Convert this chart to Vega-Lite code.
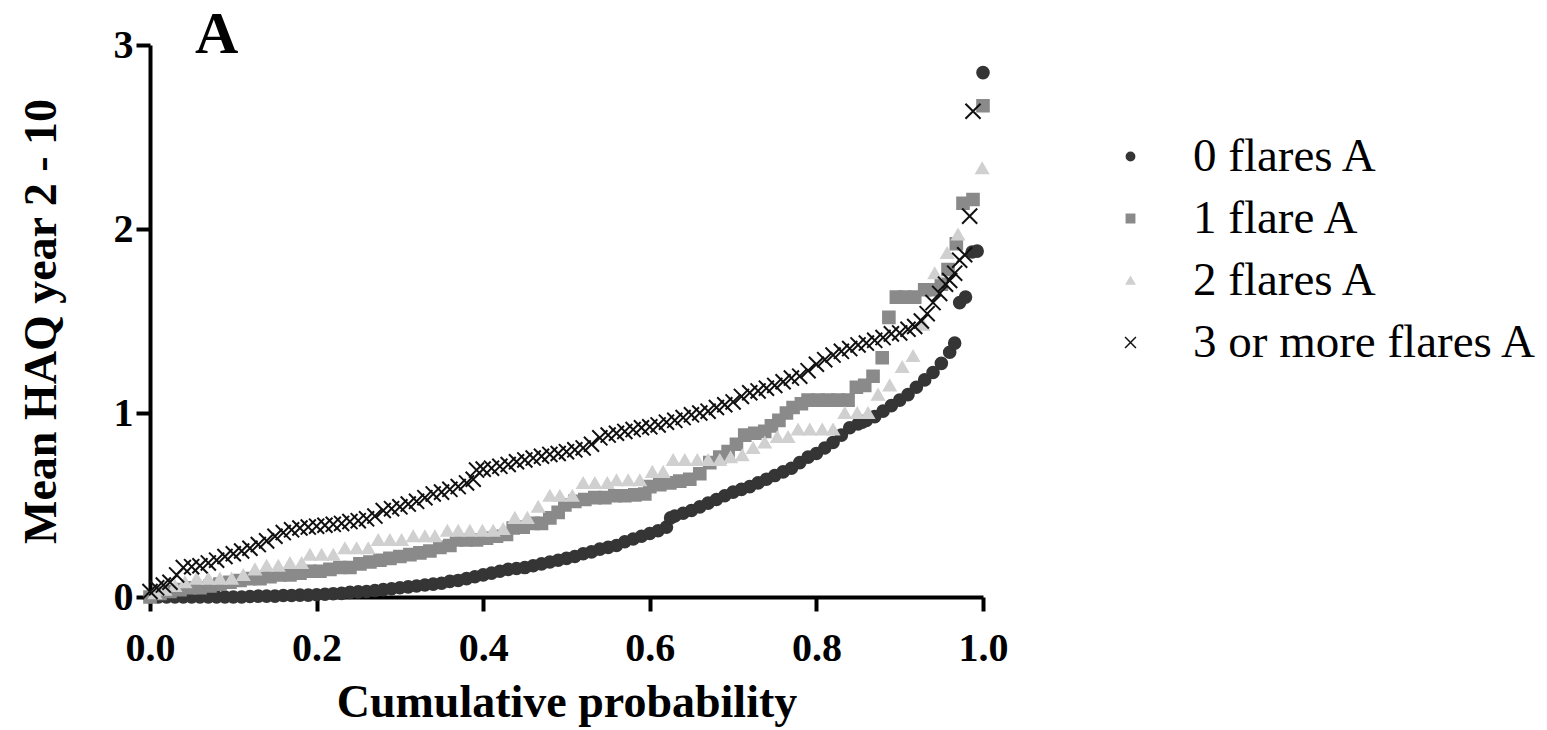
{
  "$schema": "https://vega.github.io/schema/vega-lite/v6.json",
  "width": 833,
  "height": 552,
  "autosize": {"type": "none"},
  "padding": {"left": 150, "top": 45, "right": 564, "bottom": 133},
  "background": "white",
  "title": {"text": "A", "anchor": "start", "frame": "group", "font": "Liberation Serif", "fontSize": 60, "fontWeight": "bold", "color": "black", "baseline": "alphabetic", "offset": 0, "dx": 45, "dy": 88},
  "config": {
    "view": {"stroke": null},
    "axis": {"grid": false, "domainColor": "black", "domainWidth": 4, "tickColor": "black", "tickWidth": 4, "tickSize": 14, "labelFont": "Liberation Serif", "labelFontWeight": "bold", "labelFontSize": 40, "labelColor": "black", "titleFont": "Liberation Serif", "titleFontWeight": "bold", "titleFontSize": 46, "titleColor": "black", "labelFlush": false},
    "legend": {"orient": "none", "legendX": 957, "legendY": 88, "labelFont": "Liberation Serif", "labelFontSize": 47, "labelColor": "black", "symbolSize": 70, "symbolStrokeWidth": 1.5, "rowPadding": 14, "labelOffset": 39, "padding": 0, "labelLimit": 0}
  },
  "data": {"values": [
    {"g":"0 flares A","p":0.00,"v":0},{"g":"0 flares A","p":0.01,"v":0},{"g":"0 flares A","p":0.02,"v":0},{"g":"0 flares A","p":0.03,"v":0},{"g":"0 flares A","p":0.04,"v":0},{"g":"0 flares A","p":0.05,"v":0},{"g":"0 flares A","p":0.06,"v":0},{"g":"0 flares A","p":0.07,"v":0},{"g":"0 flares A","p":0.08,"v":0},{"g":"0 flares A","p":0.09,"v":0},
    {"g":"0 flares A","p":0.10,"v":0},{"g":"0 flares A","p":0.11,"v":0},{"g":"0 flares A","p":0.12,"v":0.003},{"g":"0 flares A","p":0.13,"v":0.005},{"g":"0 flares A","p":0.14,"v":0.005},{"g":"0 flares A","p":0.15,"v":0.005},{"g":"0 flares A","p":0.16,"v":0.008},{"g":"0 flares A","p":0.17,"v":0.008},{"g":"0 flares A","p":0.18,"v":0.01},{"g":"0 flares A","p":0.19,"v":0.01},
    {"g":"0 flares A","p":0.20,"v":0.012},{"g":"0 flares A","p":0.21,"v":0.015},{"g":"0 flares A","p":0.22,"v":0.018},{"g":"0 flares A","p":0.23,"v":0.02},{"g":"0 flares A","p":0.24,"v":0.025},{"g":"0 flares A","p":0.25,"v":0.028},{"g":"0 flares A","p":0.26,"v":0.03},{"g":"0 flares A","p":0.27,"v":0.035},{"g":"0 flares A","p":0.28,"v":0.04},{"g":"0 flares A","p":0.29,"v":0.045},
    {"g":"0 flares A","p":0.30,"v":0.05},{"g":"0 flares A","p":0.31,"v":0.055},{"g":"0 flares A","p":0.32,"v":0.06},{"g":"0 flares A","p":0.33,"v":0.065},{"g":"0 flares A","p":0.34,"v":0.07},{"g":"0 flares A","p":0.35,"v":0.075},{"g":"0 flares A","p":0.36,"v":0.085},{"g":"0 flares A","p":0.37,"v":0.09},{"g":"0 flares A","p":0.38,"v":0.1},{"g":"0 flares A","p":0.39,"v":0.11},
    {"g":"0 flares A","p":0.40,"v":0.12},{"g":"0 flares A","p":0.41,"v":0.13},{"g":"0 flares A","p":0.42,"v":0.14},{"g":"0 flares A","p":0.43,"v":0.15},{"g":"0 flares A","p":0.44,"v":0.155},{"g":"0 flares A","p":0.45,"v":0.16},{"g":"0 flares A","p":0.46,"v":0.17},{"g":"0 flares A","p":0.47,"v":0.18},{"g":"0 flares A","p":0.48,"v":0.19},{"g":"0 flares A","p":0.49,"v":0.2},
    {"g":"0 flares A","p":0.50,"v":0.21},{"g":"0 flares A","p":0.51,"v":0.22},{"g":"0 flares A","p":0.52,"v":0.235},{"g":"0 flares A","p":0.53,"v":0.245},{"g":"0 flares A","p":0.54,"v":0.26},{"g":"0 flares A","p":0.55,"v":0.27},{"g":"0 flares A","p":0.56,"v":0.28},{"g":"0 flares A","p":0.57,"v":0.3},{"g":"0 flares A","p":0.58,"v":0.315},{"g":"0 flares A","p":0.59,"v":0.33},
    {"g":"0 flares A","p":0.60,"v":0.345},{"g":"0 flares A","p":0.61,"v":0.36},{"g":"0 flares A","p":0.62,"v":0.38},{"g":"0 flares A","p":0.625,"v":0.43},{"g":"0 flares A","p":0.63,"v":0.44},{"g":"0 flares A","p":0.64,"v":0.455},{"g":"0 flares A","p":0.65,"v":0.47},{"g":"0 flares A","p":0.66,"v":0.49},{"g":"0 flares A","p":0.67,"v":0.51},{"g":"0 flares A","p":0.68,"v":0.53},
    {"g":"0 flares A","p":0.69,"v":0.55},{"g":"0 flares A","p":0.70,"v":0.57},{"g":"0 flares A","p":0.71,"v":0.585},{"g":"0 flares A","p":0.72,"v":0.6},{"g":"0 flares A","p":0.73,"v":0.62},{"g":"0 flares A","p":0.74,"v":0.64},{"g":"0 flares A","p":0.75,"v":0.66},{"g":"0 flares A","p":0.76,"v":0.68},{"g":"0 flares A","p":0.77,"v":0.7},{"g":"0 flares A","p":0.78,"v":0.73},
    {"g":"0 flares A","p":0.79,"v":0.76},{"g":"0 flares A","p":0.80,"v":0.78},{"g":"0 flares A","p":0.81,"v":0.81},{"g":"0 flares A","p":0.82,"v":0.84},{"g":"0 flares A","p":0.83,"v":0.88},{"g":"0 flares A","p":0.84,"v":0.92},{"g":"0 flares A","p":0.85,"v":0.94},{"g":"0 flares A","p":0.855,"v":0.95},{"g":"0 flares A","p":0.86,"v":0.96},{"g":"0 flares A","p":0.87,"v":0.98},
    {"g":"0 flares A","p":0.88,"v":1.01},{"g":"0 flares A","p":0.89,"v":1.04},{"g":"0 flares A","p":0.90,"v":1.07},{"g":"0 flares A","p":0.91,"v":1.1},{"g":"0 flares A","p":0.92,"v":1.14},{"g":"0 flares A","p":0.93,"v":1.18},{"g":"0 flares A","p":0.94,"v":1.22},{"g":"0 flares A","p":0.95,"v":1.27},{"g":"0 flares A","p":0.96,"v":1.33},{"g":"0 flares A","p":0.966,"v":1.38},
    {"g":"0 flares A","p":0.972,"v":1.6},{"g":"0 flares A","p":0.979,"v":1.63},{"g":"0 flares A","p":0.987,"v":1.875},{"g":"0 flares A","p":0.993,"v":1.88},{"g":"0 flares A","p":1.0,"v":2.85},

    {"g":"1 flare A","p":0.000,"v":0.0},{"g":"1 flare A","p":0.012,"v":0.02},{"g":"1 flare A","p":0.024,"v":0.03},{"g":"1 flare A","p":0.036,"v":0.04},{"g":"1 flare A","p":0.048,"v":0.05},{"g":"1 flare A","p":0.060,"v":0.05},{"g":"1 flare A","p":0.072,"v":0.06},{"g":"1 flare A","p":0.084,"v":0.07},{"g":"1 flare A","p":0.096,"v":0.08},{"g":"1 flare A","p":0.108,"v":0.09},
    {"g":"1 flare A","p":0.120,"v":0.1},{"g":"1 flare A","p":0.132,"v":0.1},{"g":"1 flare A","p":0.144,"v":0.11},{"g":"1 flare A","p":0.156,"v":0.12},{"g":"1 flare A","p":0.168,"v":0.12},{"g":"1 flare A","p":0.180,"v":0.13},{"g":"1 flare A","p":0.192,"v":0.14},{"g":"1 flare A","p":0.204,"v":0.14},{"g":"1 flare A","p":0.216,"v":0.15},{"g":"1 flare A","p":0.228,"v":0.16},
    {"g":"1 flare A","p":0.240,"v":0.16},{"g":"1 flare A","p":0.252,"v":0.18},{"g":"1 flare A","p":0.264,"v":0.19},{"g":"1 flare A","p":0.276,"v":0.2},{"g":"1 flare A","p":0.288,"v":0.21},{"g":"1 flare A","p":0.300,"v":0.22},{"g":"1 flare A","p":0.312,"v":0.23},{"g":"1 flare A","p":0.324,"v":0.24},{"g":"1 flare A","p":0.336,"v":0.25},{"g":"1 flare A","p":0.348,"v":0.27},
    {"g":"1 flare A","p":0.360,"v":0.28},{"g":"1 flare A","p":0.368,"v":0.31},{"g":"1 flare A","p":0.380,"v":0.31},{"g":"1 flare A","p":0.392,"v":0.31},{"g":"1 flare A","p":0.404,"v":0.32},{"g":"1 flare A","p":0.416,"v":0.33},{"g":"1 flare A","p":0.428,"v":0.34},{"g":"1 flare A","p":0.436,"v":0.375},{"g":"1 flare A","p":0.448,"v":0.38},{"g":"1 flare A","p":0.460,"v":0.4},
    {"g":"1 flare A","p":0.470,"v":0.4},{"g":"1 flare A","p":0.480,"v":0.43},{"g":"1 flare A","p":0.490,"v":0.46},{"g":"1 flare A","p":0.498,"v":0.5},{"g":"1 flare A","p":0.510,"v":0.52},{"g":"1 flare A","p":0.522,"v":0.53},{"g":"1 flare A","p":0.534,"v":0.54},{"g":"1 flare A","p":0.546,"v":0.54},{"g":"1 flare A","p":0.558,"v":0.55},{"g":"1 flare A","p":0.570,"v":0.55},
    {"g":"1 flare A","p":0.582,"v":0.555},{"g":"1 flare A","p":0.594,"v":0.56},{"g":"1 flare A","p":0.600,"v":0.6},{"g":"1 flare A","p":0.612,"v":0.61},{"g":"1 flare A","p":0.624,"v":0.62},{"g":"1 flare A","p":0.636,"v":0.63},{"g":"1 flare A","p":0.648,"v":0.64},{"g":"1 flare A","p":0.660,"v":0.67},{"g":"1 flare A","p":0.672,"v":0.73},{"g":"1 flare A","p":0.684,"v":0.76},
    {"g":"1 flare A","p":0.694,"v":0.79},{"g":"1 flare A","p":0.704,"v":0.83},{"g":"1 flare A","p":0.714,"v":0.88},{"g":"1 flare A","p":0.726,"v":0.89},{"g":"1 flare A","p":0.738,"v":0.9},{"g":"1 flare A","p":0.746,"v":0.93},{"g":"1 flare A","p":0.755,"v":0.96},{"g":"1 flare A","p":0.764,"v":1.0},{"g":"1 flare A","p":0.772,"v":1.03},{"g":"1 flare A","p":0.782,"v":1.05},
    {"g":"1 flare A","p":0.790,"v":1.07},{"g":"1 flare A","p":0.802,"v":1.07},{"g":"1 flare A","p":0.814,"v":1.07},{"g":"1 flare A","p":0.826,"v":1.07},{"g":"1 flare A","p":0.838,"v":1.07},{"g":"1 flare A","p":0.848,"v":1.14},{"g":"1 flare A","p":0.858,"v":1.15},{"g":"1 flare A","p":0.868,"v":1.2},{"g":"1 flare A","p":0.879,"v":1.3},{"g":"1 flare A","p":0.887,"v":1.52},
    {"g":"1 flare A","p":0.896,"v":1.63},{"g":"1 flare A","p":0.906,"v":1.63},{"g":"1 flare A","p":0.918,"v":1.63},{"g":"1 flare A","p":0.930,"v":1.67},{"g":"1 flare A","p":0.942,"v":1.67},{"g":"1 flare A","p":0.950,"v":1.7},{"g":"1 flare A","p":0.958,"v":1.78},{"g":"1 flare A","p":0.968,"v":1.92},{"g":"1 flare A","p":0.976,"v":2.14},{"g":"1 flare A","p":0.988,"v":2.16},
    {"g":"1 flare A","p":1.0,"v":2.67},

    {"g":"2 flares A","p":0.006,"v":0.02},{"g":"2 flares A","p":0.018,"v":0.04},{"g":"2 flares A","p":0.030,"v":0.06},{"g":"2 flares A","p":0.042,"v":0.08},{"g":"2 flares A","p":0.056,"v":0.1},{"g":"2 flares A","p":0.070,"v":0.1},{"g":"2 flares A","p":0.084,"v":0.1},{"g":"2 flares A","p":0.098,"v":0.1},{"g":"2 flares A","p":0.112,"v":0.12},{"g":"2 flares A","p":0.126,"v":0.15},
    {"g":"2 flares A","p":0.140,"v":0.17},{"g":"2 flares A","p":0.154,"v":0.17},{"g":"2 flares A","p":0.168,"v":0.185},{"g":"2 flares A","p":0.182,"v":0.185},{"g":"2 flares A","p":0.192,"v":0.23},{"g":"2 flares A","p":0.206,"v":0.23},{"g":"2 flares A","p":0.220,"v":0.23},{"g":"2 flares A","p":0.234,"v":0.265},{"g":"2 flares A","p":0.248,"v":0.265},{"g":"2 flares A","p":0.262,"v":0.265},
    {"g":"2 flares A","p":0.274,"v":0.31},{"g":"2 flares A","p":0.288,"v":0.31},{"g":"2 flares A","p":0.302,"v":0.31},{"g":"2 flares A","p":0.316,"v":0.33},{"g":"2 flares A","p":0.330,"v":0.33},{"g":"2 flares A","p":0.342,"v":0.33},{"g":"2 flares A","p":0.357,"v":0.36},{"g":"2 flares A","p":0.370,"v":0.36},{"g":"2 flares A","p":0.384,"v":0.36},{"g":"2 flares A","p":0.399,"v":0.36},
    {"g":"2 flares A","p":0.412,"v":0.36},{"g":"2 flares A","p":0.424,"v":0.37},{"g":"2 flares A","p":0.438,"v":0.43},{"g":"2 flares A","p":0.453,"v":0.43},{"g":"2 flares A","p":0.466,"v":0.49},{"g":"2 flares A","p":0.480,"v":0.55},{"g":"2 flares A","p":0.492,"v":0.55},{"g":"2 flares A","p":0.507,"v":0.55},{"g":"2 flares A","p":0.520,"v":0.62},{"g":"2 flares A","p":0.534,"v":0.62},
    {"g":"2 flares A","p":0.549,"v":0.62},{"g":"2 flares A","p":0.560,"v":0.635},{"g":"2 flares A","p":0.574,"v":0.635},{"g":"2 flares A","p":0.588,"v":0.635},{"g":"2 flares A","p":0.603,"v":0.68},{"g":"2 flares A","p":0.616,"v":0.68},{"g":"2 flares A","p":0.628,"v":0.745},{"g":"2 flares A","p":0.642,"v":0.745},{"g":"2 flares A","p":0.657,"v":0.745},{"g":"2 flares A","p":0.670,"v":0.745},
    {"g":"2 flares A","p":0.684,"v":0.745},{"g":"2 flares A","p":0.697,"v":0.76},{"g":"2 flares A","p":0.711,"v":0.77},{"g":"2 flares A","p":0.724,"v":0.81},{"g":"2 flares A","p":0.738,"v":0.84},{"g":"2 flares A","p":0.753,"v":0.87},{"g":"2 flares A","p":0.766,"v":0.87},{"g":"2 flares A","p":0.778,"v":0.91},{"g":"2 flares A","p":0.792,"v":0.91},{"g":"2 flares A","p":0.807,"v":0.91},
    {"g":"2 flares A","p":0.820,"v":0.91},{"g":"2 flares A","p":0.834,"v":1.0},{"g":"2 flares A","p":0.849,"v":1.0},{"g":"2 flares A","p":0.862,"v":1.0},{"g":"2 flares A","p":0.874,"v":1.1},{"g":"2 flares A","p":0.888,"v":1.15},{"g":"2 flares A","p":0.903,"v":1.25},{"g":"2 flares A","p":0.916,"v":1.31},{"g":"2 flares A","p":0.928,"v":1.48},{"g":"2 flares A","p":0.942,"v":1.76},
    {"g":"2 flares A","p":0.957,"v":1.87},{"g":"2 flares A","p":0.970,"v":1.97},{"g":"2 flares A","p":0.999,"v":2.33},

    {"g":"3 or more flares A","p":0.000,"v":0.03},{"g":"3 or more flares A","p":0.008,"v":0.05},{"g":"3 or more flares A","p":0.016,"v":0.065},{"g":"3 or more flares A","p":0.024,"v":0.08},{"g":"3 or more flares A","p":0.032,"v":0.12},{"g":"3 or more flares A","p":0.040,"v":0.16},{"g":"3 or more flares A","p":0.050,"v":0.165},{"g":"3 or more flares A","p":0.060,"v":0.17},{"g":"3 or more flares A","p":0.070,"v":0.185},{"g":"3 or more flares A","p":0.080,"v":0.2},
    {"g":"3 or more flares A","p":0.090,"v":0.22},{"g":"3 or more flares A","p":0.100,"v":0.235},{"g":"3 or more flares A","p":0.110,"v":0.25},{"g":"3 or more flares A","p":0.120,"v":0.265},{"g":"3 or more flares A","p":0.130,"v":0.285},{"g":"3 or more flares A","p":0.140,"v":0.305},{"g":"3 or more flares A","p":0.150,"v":0.33},{"g":"3 or more flares A","p":0.160,"v":0.35},{"g":"3 or more flares A","p":0.170,"v":0.365},{"g":"3 or more flares A","p":0.180,"v":0.375},
    {"g":"3 or more flares A","p":0.190,"v":0.38},{"g":"3 or more flares A","p":0.200,"v":0.385},{"g":"3 or more flares A","p":0.210,"v":0.39},{"g":"3 or more flares A","p":0.220,"v":0.395},{"g":"3 or more flares A","p":0.230,"v":0.4},{"g":"3 or more flares A","p":0.240,"v":0.41},{"g":"3 or more flares A","p":0.250,"v":0.415},{"g":"3 or more flares A","p":0.260,"v":0.425},{"g":"3 or more flares A","p":0.270,"v":0.44},{"g":"3 or more flares A","p":0.280,"v":0.47},
    {"g":"3 or more flares A","p":0.290,"v":0.48},{"g":"3 or more flares A","p":0.300,"v":0.49},{"g":"3 or more flares A","p":0.310,"v":0.505},{"g":"3 or more flares A","p":0.320,"v":0.52},{"g":"3 or more flares A","p":0.330,"v":0.54},{"g":"3 or more flares A","p":0.340,"v":0.56},{"g":"3 or more flares A","p":0.350,"v":0.57},{"g":"3 or more flares A","p":0.360,"v":0.585},{"g":"3 or more flares A","p":0.370,"v":0.6},{"g":"3 or more flares A","p":0.380,"v":0.62},
    {"g":"3 or more flares A","p":0.388,"v":0.64},{"g":"3 or more flares A","p":0.392,"v":0.69},{"g":"3 or more flares A","p":0.400,"v":0.695},{"g":"3 or more flares A","p":0.410,"v":0.7},{"g":"3 or more flares A","p":0.420,"v":0.71},{"g":"3 or more flares A","p":0.430,"v":0.72},{"g":"3 or more flares A","p":0.440,"v":0.735},{"g":"3 or more flares A","p":0.450,"v":0.745},{"g":"3 or more flares A","p":0.460,"v":0.755},{"g":"3 or more flares A","p":0.470,"v":0.765},
    {"g":"3 or more flares A","p":0.480,"v":0.775},{"g":"3 or more flares A","p":0.490,"v":0.78},{"g":"3 or more flares A","p":0.500,"v":0.79},{"g":"3 or more flares A","p":0.510,"v":0.8},{"g":"3 or more flares A","p":0.520,"v":0.81},{"g":"3 or more flares A","p":0.530,"v":0.83},{"g":"3 or more flares A","p":0.540,"v":0.865},{"g":"3 or more flares A","p":0.550,"v":0.88},{"g":"3 or more flares A","p":0.560,"v":0.89},{"g":"3 or more flares A","p":0.570,"v":0.9},
    {"g":"3 or more flares A","p":0.580,"v":0.91},{"g":"3 or more flares A","p":0.590,"v":0.92},{"g":"3 or more flares A","p":0.600,"v":0.925},{"g":"3 or more flares A","p":0.610,"v":0.935},{"g":"3 or more flares A","p":0.620,"v":0.95},{"g":"3 or more flares A","p":0.630,"v":0.96},{"g":"3 or more flares A","p":0.640,"v":0.975},{"g":"3 or more flares A","p":0.650,"v":0.99},{"g":"3 or more flares A","p":0.660,"v":1.0},{"g":"3 or more flares A","p":0.670,"v":1.01},
    {"g":"3 or more flares A","p":0.680,"v":1.03},{"g":"3 or more flares A","p":0.690,"v":1.045},{"g":"3 or more flares A","p":0.700,"v":1.06},{"g":"3 or more flares A","p":0.710,"v":1.09},{"g":"3 or more flares A","p":0.720,"v":1.11},{"g":"3 or more flares A","p":0.730,"v":1.12},{"g":"3 or more flares A","p":0.740,"v":1.135},{"g":"3 or more flares A","p":0.750,"v":1.15},{"g":"3 or more flares A","p":0.760,"v":1.17},{"g":"3 or more flares A","p":0.770,"v":1.19},
    {"g":"3 or more flares A","p":0.780,"v":1.2},{"g":"3 or more flares A","p":0.790,"v":1.23},{"g":"3 or more flares A","p":0.800,"v":1.265},{"g":"3 or more flares A","p":0.810,"v":1.29},{"g":"3 or more flares A","p":0.820,"v":1.315},{"g":"3 or more flares A","p":0.830,"v":1.335},{"g":"3 or more flares A","p":0.840,"v":1.35},{"g":"3 or more flares A","p":0.850,"v":1.37},{"g":"3 or more flares A","p":0.860,"v":1.38},{"g":"3 or more flares A","p":0.870,"v":1.395},
    {"g":"3 or more flares A","p":0.880,"v":1.41},{"g":"3 or more flares A","p":0.890,"v":1.43},{"g":"3 or more flares A","p":0.900,"v":1.435},{"g":"3 or more flares A","p":0.910,"v":1.455},{"g":"3 or more flares A","p":0.918,"v":1.47},{"g":"3 or more flares A","p":0.926,"v":1.5},{"g":"3 or more flares A","p":0.933,"v":1.54},{"g":"3 or more flares A","p":0.940,"v":1.6},{"g":"3 or more flares A","p":0.948,"v":1.65},{"g":"3 or more flares A","p":0.955,"v":1.7},
    {"g":"3 or more flares A","p":0.960,"v":1.72},{"g":"3 or more flares A","p":0.966,"v":1.76},{"g":"3 or more flares A","p":0.972,"v":1.83},{"g":"3 or more flares A","p":0.978,"v":1.86},{"g":"3 or more flares A","p":0.984,"v":2.07},{"g":"3 or more flares A","p":0.988,"v":2.64}
  ]},
  "mark": {"type": "point", "filled": true, "size": 135, "strokeWidth": 2, "opacity": 1, "clip": false},
  "encoding": {
    "x": {"field": "p", "type": "quantitative", "scale": {"domain": [0, 1], "nice": false, "zero": false}, "axis": {"title": "Cumulative probability", "values": [0, 0.2, 0.4, 0.6, 0.8, 1.0], "format": ".1f", "labelPadding": 17, "titlePadding": 12}},
    "y": {"field": "v", "type": "quantitative", "scale": {"domain": [0, 3], "nice": false}, "axis": {"title": "Mean HAQ year 2 - 10", "values": [0, 1, 2, 3], "format": "d", "labelPadding": 3, "titlePadding": 48}},
    "fill": {"field": "g", "type": "nominal", "scale": {"domain": ["0 flares A", "1 flare A", "2 flares A", "3 or more flares A"], "range": ["#353535", "#8a8a8a", "#d0d0d0", "#111111"]}, "legend": {"title": null}},
    "stroke": {"field": "g", "type": "nominal", "scale": {"domain": ["0 flares A", "1 flare A", "2 flares A", "3 or more flares A"], "range": ["#353535", "#8a8a8a", "#d0d0d0", "#111111"]}, "legend": {"title": null}},
    "shape": {"field": "g", "type": "nominal", "scale": {"domain": ["0 flares A", "1 flare A", "2 flares A", "3 or more flares A"], "range": ["circle", "square", "triangle-up", "M-1.3,-1.3L1.3,1.3M-1.3,1.3L1.3,-1.3"]}, "legend": {"title": null}}
  }
}
